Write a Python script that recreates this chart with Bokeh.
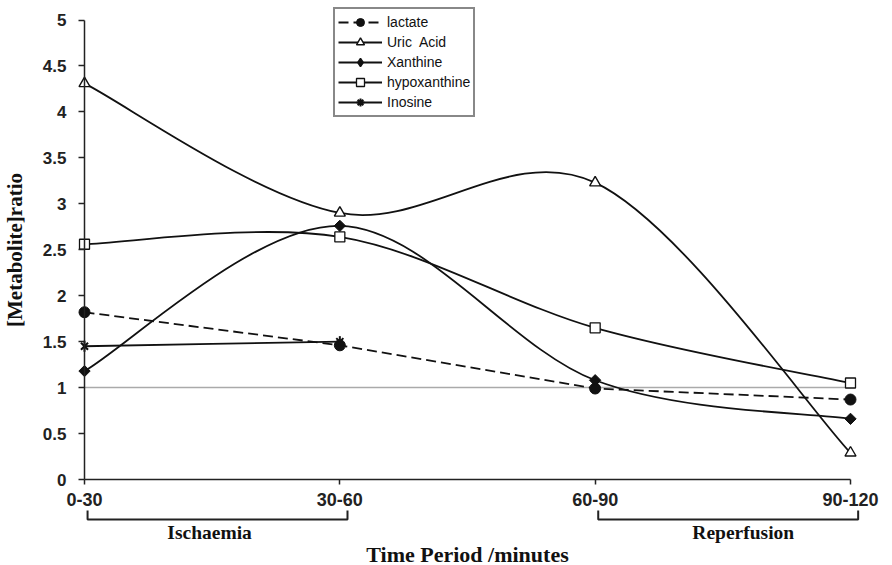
import math
from bokeh.plotting import figure
from bokeh.models import (ColumnDataSource, FixedTicker, NumeralTickFormatter,
                          Legend, LegendItem, Range1d)
from bokeh.core.properties import value
from bokeh.embed import file_html
from bokeh.resources import INLINE

# ---------------- data ----------------
categories = ["0-30", "30-60", "60-90", "90-120"]
lactate = [1.82, 1.46, 0.99, 0.87]
uric_acid = [4.31, 2.90, 3.23, 0.29]
xanthine = [1.18, 2.76, 1.08, 0.66]
hypoxanthine = [2.56, 2.64, 1.65, 1.05]
inosine = [1.45, 1.50]
y_ticks = [0, 0.5, 1, 1.5, 2, 2.5, 3, 3.5, 4, 4.5, 5]
reference_level = 1
phases = ["Ischaemia", "Reperfusion"]
phase_spans = [(0, 1), (2, 3)]   # category index ranges

SANS = "Liberation Sans"
SERIF = "Liberation Serif"
INK = "#111111"
AX = "#222222"

p = figure(width=892, height=565, output_backend="svg", toolbar_location=None,
           x_range=Range1d(-0.329, 3.1645), y_range=Range1d(-0.9358, 5.2122),
           min_border_left=0, min_border_right=0, min_border_top=0,
           min_border_bottom=0)
p.outline_line_color = None
p.grid.visible = False
p.background_fill_color = "white"
p.border_fill_color = "white"

# ---------------- axes ----------------
xa = p.xaxis[0]
xa.fixed_location = 0
xa.bounds = (0, len(categories) - 1)
xa.ticker = FixedTicker(ticks=list(range(len(categories))))
xa.major_label_overrides = {i: c for i, c in enumerate(categories)}
xa.minor_tick_line_color = None
xa.major_tick_out = 5
xa.major_tick_in = 0
xa.axis_line_color = AX
xa.axis_line_width = 1.5
xa.major_tick_line_color = AX
xa.major_tick_line_width = 1.5
xa.major_label_text_font = SANS
xa.major_label_text_font_style = "bold"
xa.major_label_text_font_size = "18px"
xa.major_label_text_color = AX
xa.major_label_standoff = 8
xa.axis_label = "Time Period /minutes"
xa.axis_label_text_font = SERIF
xa.axis_label_text_font_style = "bold"
xa.axis_label_text_font_size = "22px"
xa.axis_label_text_color = INK
xa.axis_label_standoff = 33

ya = p.yaxis[0]
ya.fixed_location = 0
ya.bounds = (0, 5)
ya.ticker = FixedTicker(ticks=y_ticks)
ya.formatter = NumeralTickFormatter(format="0.[0]")
ya.minor_tick_line_color = None
ya.major_tick_out = 6
ya.major_tick_in = 0
ya.axis_line_color = AX
ya.axis_line_width = 1.5
ya.major_tick_line_color = AX
ya.major_tick_line_width = 1.5
ya.major_label_text_font = SANS
ya.major_label_text_font_style = "bold"
ya.major_label_text_font_size = "17px"
ya.major_label_text_color = AX
ya.major_label_standoff = 12
ya.axis_label = "[Metabolite]ratio"
ya.axis_label_text_font = SERIF
ya.axis_label_text_font_style = "bold"
ya.axis_label_text_font_size = "21px"
ya.axis_label_text_color = INK
ya.axis_label_standoff = 13

# reference line at ratio 1
p.line([0, len(categories) - 1], [reference_level, reference_level],
       line_color="#aaaaaa", line_width=1.5)


def smooth_source(vals):
    """Catmull-Rom style bezier segments through the data points."""
    xs = list(range(len(vals)))
    n = len(vals)
    d = dict(x0=[], y0=[], x1=[], y1=[], cx0=[], cy0=[], cx1=[], cy1=[])
    for i in range(n - 1):
        pm = max(i - 1, 0)
        pp = min(i + 2, n - 1)
        d["x0"].append(xs[i]); d["y0"].append(vals[i])
        d["x1"].append(xs[i + 1]); d["y1"].append(vals[i + 1])
        d["cx0"].append(xs[i] + (xs[i + 1] - xs[pm]) / 6)
        d["cy0"].append(vals[i] + (vals[i + 1] - vals[pm]) / 6)
        d["cx1"].append(xs[i + 1] - (xs[pp] - xs[i]) / 6)
        d["cy1"].append(vals[i + 1] - (vals[pp] - vals[i]) / 6)
    return ColumnDataSource(d)


items = []
LW = 1.8

# lactate: straight dashed
lx = list(range(len(lactate)))
r_l = p.line(lx, lactate, line_color=INK, line_width=LW, line_dash="10 5")
m_l = p.scatter(lx, lactate, marker="circle", size=11, fill_color=INK,
                line_color=INK)
items.append(LegendItem(label="lactate", renderers=[r_l, m_l]))


def curve(vals):
    return p.bezier(x0="x0", y0="y0", x1="x1", y1="y1", cx0="cx0", cy0="cy0",
                    cx1="cx1", cy1="cy1", source=smooth_source(vals),
                    line_color=INK, line_width=LW)


# uric acid
xs = list(range(len(uric_acid)))
rb = curve(uric_acid)
rm = p.scatter(xs, uric_acid, marker="triangle", size=11, fill_color="white",
               line_color=INK, line_width=1.4)
items.append(LegendItem(label="Uric  Acid", renderers=[rb, rm]))

# xanthine: rotated square in the plot; a tiny diamond underneath gives the
# legend key (legend keys are drawn at a fixed size and without rotation)
xs = list(range(len(xanthine)))
rb = curve(xanthine)
key = p.scatter(xs, xanthine, marker="diamond", size=2, fill_color=INK,
                line_color=INK, line_width=1.5)
rm = p.scatter(xs, xanthine, marker="square", size=8, angle=math.pi / 4,
               fill_color=INK, line_color=INK, line_width=1)
items.append(LegendItem(label="Xanthine", renderers=[rb, key]))

# hypoxanthine
xs = list(range(len(hypoxanthine)))
rb = curve(hypoxanthine)
rm = p.scatter(xs, hypoxanthine, marker="square", size=10, fill_color="white",
               line_color=INK, line_width=1.3)
items.append(LegendItem(label="hypoxanthine", renderers=[rb, rm]))

# inosine (star: x plus vertical bar)
xs = list(range(len(inosine)))
rb = curve(inosine)
key = p.scatter(xs, inosine, marker="asterisk", size=2, line_color=INK,
                line_width=2)
rm1 = p.scatter(xs, inosine, marker="x", size=10, line_color=INK, line_width=2)
rm2 = p.scatter(xs, inosine, marker="dash", size=11, angle=math.pi / 2,
                line_color=INK, line_width=2)
items.append(LegendItem(label="Inosine", renderers=[rb, key]))

# phase brackets below the axis
b_xs, b_ys = [], []
for (a, b) in phase_spans:
    b_xs.append([a + 0.012, a + 0.012, b + 0.03, b + 0.03])
    b_ys.append([-0.337, -0.435, -0.435, -0.337])
p.multi_line(b_xs, b_ys, line_color=AX, line_width=2)
p.text(x=[0.49, 2.58], y=[-0.577, -0.577], text=phases,
       text_font=value(SERIF), text_font_style="bold", text_font_size="19.5px",
       text_align="center", text_baseline="middle", text_color=INK)

legend = Legend(items=items, location=(333, 448))
legend.label_text_font = SANS
legend.label_text_font_size = "14px"
legend.label_text_color = INK
legend.glyph_width = 44
legend.glyph_height = 20
legend.label_height = 16
legend.label_standoff = 5
legend.spacing = -2
legend.padding = 3
legend.margin = 0
legend.border_line_color = INK
legend.border_line_width = 2
legend.background_fill_color = "white"
legend.background_fill_alpha = 1
p.add_layout(legend, "center")

open("out.html", "w").write(file_html(p, INLINE))
